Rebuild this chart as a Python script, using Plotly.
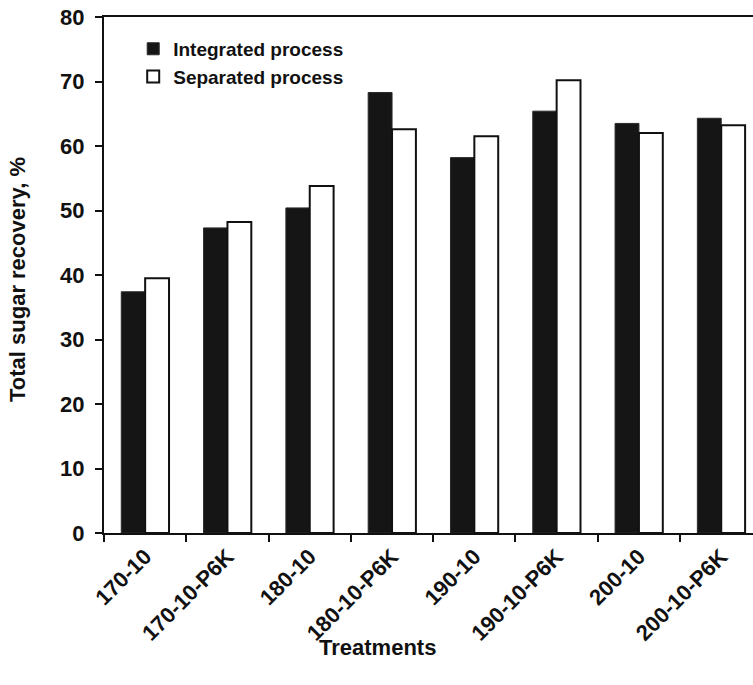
import plotly.graph_objects as go

treatments = ["170-10", "170-10-P6K", "180-10", "180-10-P6K",
              "190-10", "190-10-P6K", "200-10", "200-10-P6K"]
integrated = [37.4, 47.3, 50.4, 68.3, 58.2, 65.4, 63.5, 64.3]
separated = [39.5, 48.2, 53.8, 62.6, 61.5, 70.2, 62.0, 63.2]
y_ticks = [0, 10, 20, 30, 40, 50, 60, 70, 80]

FONT = "Liberation Sans, Arial, sans-serif"
FS = 22

fig = go.Figure()
fig.add_trace(go.Bar(
    x=treatments, y=integrated, name="Integrated process",
    marker=dict(color="#151515", line=dict(color="#2a2a2a", width=1)),
))
fig.add_trace(go.Bar(
    x=treatments, y=separated, name="Separated process",
    marker=dict(color="white", line=dict(color="#111111", width=2)),
))

W, H = 753, 685
L, R, T = 104, 0, 17
B = H - 533

fig.update_layout(
    width=W, height=H,
    margin=dict(l=L, r=R, t=T, b=B, pad=0, autoexpand=False),
    paper_bgcolor="white", plot_bgcolor="white",
    barmode="group", bargap=0.42, bargroupgap=0,
    font=dict(family=FONT, size=FS, color="#111111"),
    showlegend=True,
    legend=dict(
        x=0.045, y=0.975, xanchor="left", yanchor="top",
        bgcolor="rgba(0,0,0,0)", borderwidth=0,
        font=dict(family=FONT, size=19, color="#111111", weight="bold"),
        itemwidth=30, tracegroupgap=0,
    ),
)

fig.update_xaxes(
    type="category", automargin=False,
    range=[-0.5, 7.386],
    showline=True, linecolor="#111111", linewidth=2, mirror=True,
    ticks="outside", ticklen=7, tickwidth=2, tickcolor="#111111",
    tickson="boundaries",
    tickangle=-45,
    tickfont=dict(family=FONT, size=FS, color="#111111", weight="bold"),
    ticklabeloverflow="allow",
    showgrid=False, zeroline=False,
)
fig.update_yaxes(
    range=[0, 80], tickvals=y_ticks, automargin=False,
    showline=True, linecolor="#111111", linewidth=2,
    ticks="outside", ticklen=7, tickwidth=2, tickcolor="#111111",
    ticklabelstandoff=6, ticklabeloverflow="allow",
    tickfont=dict(family=FONT, size=FS, color="#111111", weight="bold"),
    showgrid=False, zeroline=False,
)

pw = W - L - R
ph = H - T - B
fig.add_annotation(
    text="<b>Treatments</b>", xref="paper", yref="paper",
    x=(377 - L) / pw, y=-(647 - (T + ph)) / ph,
    xanchor="center", yanchor="middle", showarrow=False,
    font=dict(family=FONT, size=FS, color="#111111"),
)
fig.add_annotation(
    text="<b>Total sugar recovery, %</b>", xref="paper", yref="paper",
    x=(17 - L) / pw, y=1 - (280 - T) / ph, textangle=-90,
    xanchor="center", yanchor="middle", showarrow=False,
    font=dict(family=FONT, size=FS, color="#111111"),
)

fig.write_html("out.html", config={"displayModeBar": False},
               post_script="document.body.style.margin='0';")
